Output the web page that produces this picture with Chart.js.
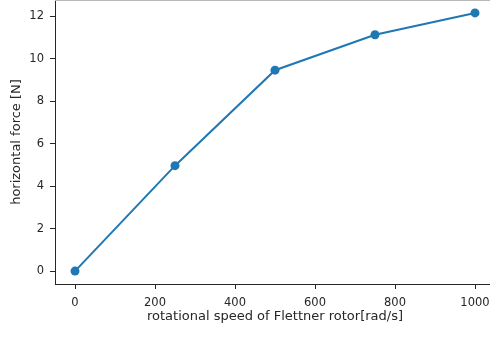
<!DOCTYPE html>
<html>
<head>
<meta charset="utf-8">
<script src="https://cdn.jsdelivr.net/npm/chart.js@4/dist/chart.umd.min.js"></script>
<style>
  html, body { margin: 0; padding: 0; background: #fff; overflow: hidden; }
  #wrap { position: absolute; left: 0; top: 0; width: 500px; height: 337px; }
</style>
</head>
<body>
<div id="wrap"><canvas id="forceChart" width="500" height="337"></canvas></div>
<script>
// rotor speed [rad/s] vs. measured horizontal force [N]
var speeds = [0, 250, 500, 750, 1000];
var forces = [0, 4.97, 9.47, 11.14, 12.17];

var xTicks = [0, 200, 400, 600, 800, 1000];
var yTicks = [0, 2, 4, 6, 8, 10, 12];

var fontFamily = "'DejaVu Sans', sans-serif";
var inkColor = '#262626';
var tickFont = { family: fontFamily, size: 11.5 };
var titleFont = { family: fontFamily, size: 13 };

// matplotlib-like 5% margins around the data
var yPad = (Math.max.apply(null, forces) - Math.min.apply(null, forces)) * 0.05;
var xPad = (speeds[speeds.length - 1] - speeds[0]) * 0.05;

// top spine (the right one falls outside the page)
var framePlugin = {
    id: 'frame',
    afterDraw: function (chart) {
        var a = chart.chartArea;
        var ctx = chart.ctx;
        ctx.save();
        ctx.lineWidth = 1;
        ctx.strokeStyle = '#b8b8b8';
        ctx.beginPath();
        ctx.moveTo(a.left, 0.5);
        ctx.lineTo(a.right, 0.5);
        ctx.stroke();
        ctx.restore();
    }
};

var forceChart = new Chart(document.getElementById('forceChart'), {
    type: 'line',
    data: {
        datasets: [{
            data: speeds.map(function (s, i) { return { x: s, y: forces[i] }; }),
            borderColor: '#1f77b4',
            backgroundColor: '#1f77b4',
            borderWidth: 2,
            pointRadius: 4.5,
            pointHoverRadius: 4.5,
            pointBorderWidth: 0,
            tension: 0,
            fill: false,
            clip: false
        }]
    },
    options: {
        responsive: false,
        animation: false,
        devicePixelRatio: 1,
        layout: {
            autoPadding: false,
            padding: { top: 0, right: 5, left: 0, bottom: 0 }
        },
        plugins: {
            legend: { display: false },
            tooltip: { enabled: false }
        },
        scales: {
            x: {
                type: 'linear',
                min: speeds[0] - xPad,
                max: speeds[speeds.length - 1] + xPad,
                afterBuildTicks: function (scale) {
                    scale.ticks = xTicks.map(function (v) { return { value: v }; });
                },
                afterFit: function (scale) {
                    scale.height = 53;
                    scale.paddingLeft = 0;
                    scale.paddingRight = 0;
                },
                grid: {
                    drawOnChartArea: false,
                    drawTicks: true,
                    tickLength: 5,
                    tickColor: inkColor
                },
                border: { color: inkColor },
                ticks: {
                    color: inkColor,
                    padding: 7,
                    maxRotation: 0,
                    font: tickFont,
                    callback: function (v) { return String(v); }
                },
                title: {
                    display: true,
                    text: 'rotational speed of Flettner rotor[rad/s]',
                    color: inkColor,
                    font: titleFont,
                    padding: { top: 0, bottom: 13 }
                }
            },
            y: {
                type: 'linear',
                min: Math.min.apply(null, forces) - yPad,
                max: Math.max.apply(null, forces) + yPad,
                afterBuildTicks: function (scale) {
                    scale.ticks = yTicks.map(function (v) { return { value: v }; });
                },
                afterFit: function (scale) {
                    scale.width = 55;
                    scale.paddingTop = 0;
                    scale.paddingBottom = 0;
                },
                grid: {
                    drawOnChartArea: false,
                    drawTicks: true,
                    tickLength: 5,
                    tickColor: inkColor
                },
                border: { color: inkColor },
                ticks: {
                    color: inkColor,
                    padding: 6,
                    font: tickFont,
                    callback: function (v) { return String(v); }
                },
                title: {
                    display: true,
                    text: 'horizontal force [N]',
                    color: inkColor,
                    font: titleFont,
                    padding: { top: 8.5, bottom: 0 }
                }
            }
        }
    },
    plugins: [framePlugin]
});
</script>
</body>
</html>
